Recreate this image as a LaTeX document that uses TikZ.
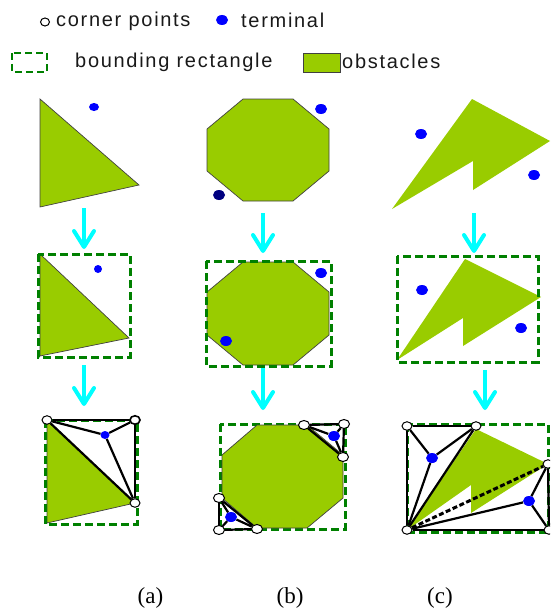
\documentclass[tikz,border=0pt]{standalone}
\usepackage{fontspec}
\setmainfont{Liberation Sans}
\newfontfamily\legendfont[LetterSpace=8.5]{Liberation Sans}
\newfontfamily\capfont{Liberation Serif}
\usetikzlibrary{arrows.meta, shapes.geometric, backgrounds}
\definecolor{myolive}{HTML}{99CC00}
\definecolor{mygreen}{HTML}{008000}
\definecolor{mycyan}{HTML}{00FFFF}
\definecolor{myblue}{HTML}{0000FF}
\definecolor{mynavy}{HTML}{000080}

\begin{document}
\begin{tikzpicture}[
    x=1pt, y=-1pt,
    corner/.style={draw=black, fill=white, ellipse, line width=1pt, inner sep=0pt, minimum width=10pt, minimum height=8.5pt},
    terminal/.style={fill=myblue, ellipse, inner sep=0pt, minimum width=12pt, minimum height=10pt},
    obstacle/.style={draw=black!75, fill=myolive, line width=0.7pt},
    obstaclec/.style={fill=myolive},
    bbox/.style={draw=mygreen, line width=3pt, dash pattern=on 8pt off 4pt},
    flow/.style={draw=mycyan, line width=4pt, -{Straight Barb[round, length=16pt, width=20pt, line width=4pt]}},
    edge/.style={draw=black, line width=2.2pt},
    legend/.style={font=\fontsize{20}{23}\selectfont\legendfont, inner sep=0pt, anchor=west, text=black!90},
    caption/.style={font=\fontsize{23}{27}\selectfont\capfont, inner sep=0pt},
]
\useasboundingbox (0,0) rectangle (550,610);
\clip (0,0) rectangle (550,610);

% legend
\node [corner, minimum width=9pt, minimum height=8pt] (keycorner) at (45,22) {};
\node [legend] (keycornertext) at (56,21) {corner points};
\node [terminal] (keyterminal) at (222,20) {};
\node [legend] (keyterminaltext) at (241,20) {terminal};
\node [legend] (keyboxtext) at (75,62.5) {bounding rectangle};
\node [draw=black!75, fill=myolive, minimum width=37pt, minimum height=19pt, inner sep=0pt, line width=0.7pt] (keyobstacle) at (322,62.5) {};
\node [legend] (keyobstacletext) at (342,61) {obstacles};
\draw [bbox, line width=2.6pt, dash pattern=on 7pt off 4pt] (12,53) rectangle (47,72);

% column a
\draw [obstacle] (40,99) -- (40,207) -- (139,185) -- cycle;
\node [terminal, minimum width=10pt, minimum height=8pt] (ta1) at (94,107) {};
\coordinate (a1s) at (84,208);
\coordinate (a1e) at (84,249);
\draw [flow] (a1s) -- (a1e);

\draw [obstacle] (40,254) -- (40,356) -- (129,338) -- cycle;
\draw [bbox] (38,254) rectangle (130,357);
\node [terminal, minimum width=8pt, minimum height=8pt] (ta2) at (98,269) {};
\coordinate (a2s) at (84,365);
\coordinate (a2e) at (84,406);
\draw [flow] (a2s) -- (a2e);

\node [corner] (ca1) at (47,420) {};
\node [corner, line width=1.6pt] (ca2) at (135,420) {};
\node [corner] (ca3) at (135,503) {};
\node [terminal, minimum width=9pt, minimum height=8pt] (ta3) at (105,435) {};
\begin{scope}[on background layer]
\draw [obstacle] (47,420) -- (47,523) -- (135,503) -- cycle;
\draw [bbox] (45,420) rectangle (137,524);
\draw [edge] (ca1) -- (ca2);
\draw [edge] (ca2) -- (ca3);
\draw [edge] (ca1) -- (ca3);
\draw [edge] (ca1) -- (ta3);
\draw [edge] (ca2) -- (ta3);
\draw [edge] (ca3) -- (ta3);
\end{scope}

% column b
\draw [obstacle] (243,99) -- (293,99) -- (329,129) -- (329,171) -- (293,201) -- (243,201) -- (207,171) -- (207,129) -- cycle;
\node [terminal] (tb1) at (321,109) {};
\node [terminal, fill=mynavy] (tb2) at (219,195) {};
\coordinate (b1s) at (263,213);
\coordinate (b1e) at (263,253);
\draw [flow] (b1s) -- (b1e);

\draw [obstacle] (243,262) -- (293,262) -- (329,292) -- (329,335) -- (293,365) -- (243,365) -- (207,335) -- (207,292) -- cycle;
\draw [bbox] (206,261) rectangle (331,366);
\node [terminal] (tb3) at (321,273) {};
\node [terminal] (tb4) at (226,341) {};
\coordinate (b2s) at (263,368);
\coordinate (b2e) at (263,410);
\draw [flow] (b2s) -- (b2e);

\node [corner, minimum width=11pt, minimum height=9pt] (cb1) at (304,425) {};
\node [corner, minimum width=11pt, minimum height=9pt] (cb2) at (344,424) {};
\node [corner, minimum width=11pt, minimum height=9pt] (cb3) at (343,457) {};
\node [corner, minimum width=11pt, minimum height=9pt] (cb4) at (219,498) {};
\node [corner, minimum width=11pt, minimum height=9pt] (cb5) at (219,530) {};
\node [corner, minimum width=11pt, minimum height=9pt] (cb6) at (257,529) {};
\node [terminal] (tb5) at (334,436) {};
\node [terminal] (tb6) at (231,517) {};
\begin{scope}[on background layer]
\draw [bbox] (220,424) rectangle (345,529);
\draw [obstacle] (257,425) -- (307,425) -- (343,455) -- (343,498) -- (307,528) -- (257,528) -- (222,498) -- (222,455) -- cycle;
\draw [edge] (cb1) -- (cb2);
\draw [edge] (cb2) -- (cb3);
\draw [edge] (cb1) -- (cb3);
\draw [edge] (cb1) -- (tb5);
\draw [edge] (cb2) -- (tb5);
\draw [edge] (cb3) -- (tb5);
\draw [edge] (cb4) -- (cb5);
\draw [edge] (cb5) -- (cb6);
\draw [edge] (cb4) -- (cb6);
\draw [edge] (cb4) -- (tb6);
\draw [edge] (cb5) -- (tb6);
\draw [edge] (cb6) -- (tb6);
\end{scope}

% column c
\fill [obstaclec] (472,99) -- (550,141) -- (473,190) -- (473,161) -- (392,209) -- cycle;
\node [terminal] (tc1) at (421,134) {};
\node [terminal] (tc2) at (534,175) {};
\coordinate (c1s) at (474,213);
\coordinate (c1e) at (474,253);
\draw [flow] (c1s) -- (c1e);

\fill [obstaclec] (465,259) -- (541,297) -- (463,346) -- (463,318) -- (397,360) -- cycle;
\draw [bbox] (397,256) rectangle (538,362);
\node [terminal] (tc3) at (422,290) {};
\node [terminal] (tc4) at (521,328) {};
\coordinate (c2s) at (485,370);
\coordinate (c2e) at (485,410);
\draw [flow] (c2s) -- (c2e);

\node [corner] (cc1) at (407,426) {};
\node [corner] (cc2) at (476,426) {};
\node [corner] (cc3) at (548,464) {};
\node [corner] (cc4) at (549,530) {};
\node [corner] (cc5) at (407,530) {};
\node [terminal] (tc5) at (432,458) {};
\node [terminal] (tc6) at (529,501) {};
\begin{scope}[on background layer]
\draw [bbox] (407,424) rectangle (548,532);
\fill [obstaclec] (476,429) -- (548,464) -- (471,513) -- (471,485) -- (407,530) -- cycle;
\draw [edge] (cc1) -- (cc2);
\draw [edge] (cc1) -- (cc5);
\draw [edge] (cc5) -- (cc2);
\draw [edge] (cc5) -- (cc4);
\draw [edge] (cc3) -- (cc4);
\draw [edge] (cc1) -- (tc5);
\draw [edge] (cc2) -- (tc5);
\draw [edge] (cc5) -- (tc5);
\draw [edge] (cc5) -- (tc6);
\draw [edge] (cc3) -- (tc6);
\draw [edge] (cc4) -- (tc6);
\draw [edge, line width=3pt, dash pattern=on 5pt off 2.5pt] (cc5) -- (cc3);
\end{scope}

% captions
\node [caption] (capa) at (150.5,598) {(a)};
\node [caption] (capb) at (290,598) {(b)};
\node [caption] (capc) at (440,598) {(c)};
\end{tikzpicture}
\end{document}
